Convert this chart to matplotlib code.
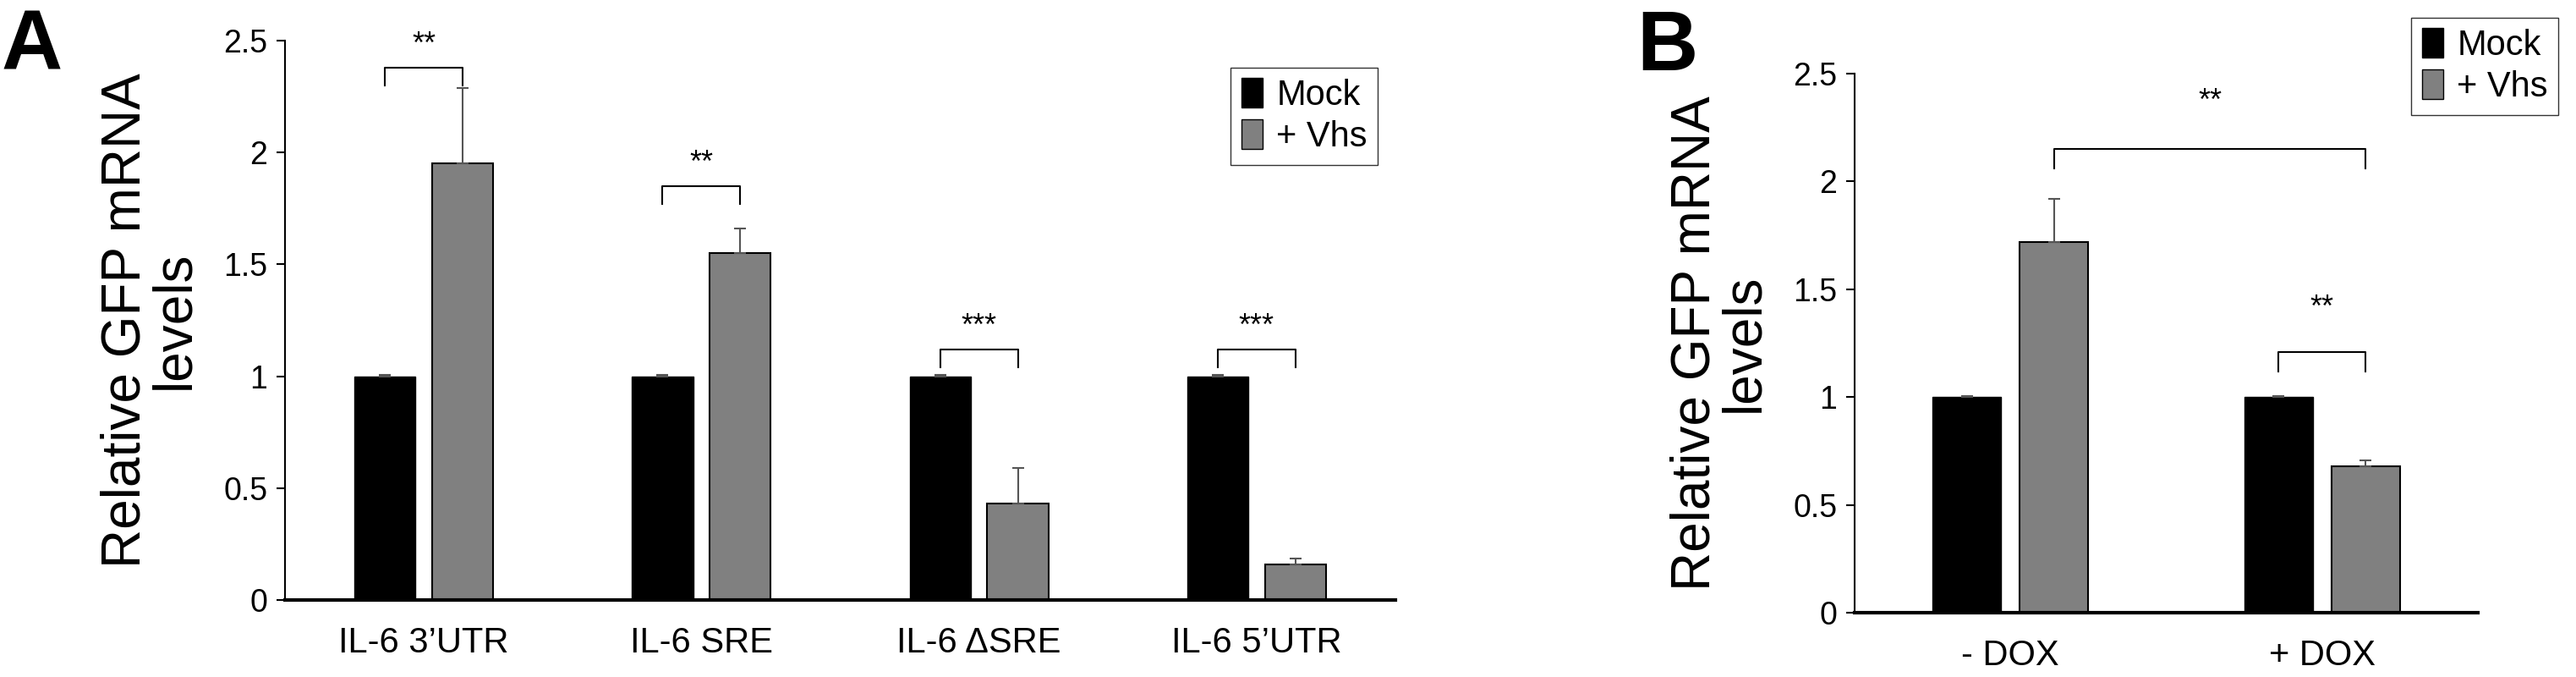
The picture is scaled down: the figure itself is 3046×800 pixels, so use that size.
import numpy as np
import matplotlib.pyplot as plt
from matplotlib import font_manager

names = {f.name for f in font_manager.fontManager.ttflist}
narrow = 'Liberation Sans Narrow' if 'Liberation Sans Narrow' in names else 'Liberation Sans'

cats_a = ['IL-6 3\u2019UTR', 'IL-6 SRE', 'IL-6 \u0394SRE', 'IL-6 5\u2019UTR']
mock_a = [1.0, 1.0, 1.0, 1.0]
mock_a_err = [0.005, 0.005, 0.005, 0.005]
vhs_a = [1.95, 1.55, 0.43, 0.16]
vhs_a_err = [0.34, 0.11, 0.16, 0.025]
stars_a = ['**', '**', '***', '***']
brack_a = [2.38, 1.85, 1.12, 1.12]

cats_b = ['- DOX', '+ DOX']
mock_b = [1.0, 1.0]
mock_b_err = [0.005, 0.005]
vhs_b = [1.72, 0.68]
vhs_b_err = [0.20, 0.025]

fig = plt.figure(figsize=(30.46, 8), dpi=100)
axA = fig.add_axes([337/3046, 1-709/800, (1650-337)/3046, (709-48)/800])
axB = fig.add_axes([2193/3046, 1-724/800, (2930-2193)/3046, (724-87)/800])

w, off = 0.22, 0.14


def style(ax, cats, n):
    ax.set_ylim(0, 2.5)
    ax.set_xlim(-0.5, n - 0.5)
    ax.set_yticks([0, 0.5, 1, 1.5, 2, 2.5])
    ax.set_yticklabels(['0', '0.5', '1', '1.5', '2', '2.5'], fontfamily=narrow, fontsize=27)
    ax.set_xticks(range(n))
    ax.set_xticklabels(cats, fontfamily=narrow, fontsize=30)
    ax.tick_params(axis='x', length=0, pad=22)
    ax.tick_params(axis='y', direction='out', length=7, width=1.5, pad=8)
    for s in ['top', 'right']:
        ax.spines[s].set_visible(False)
    ax.spines['left'].set_linewidth(1.5)
    ax.spines['bottom'].set_linewidth(3)
    ax.set_ylabel('Relative GFP mRNA\nlevels', fontfamily='Liberation Sans', fontsize=46,
                  linespacing=0.95, labelpad=20)
    ax.legend(handles=[plt.Rectangle((0, 0), 1, 1, fc='black', ec='black'),
                       plt.Rectangle((0, 0), 1, 1, fc='#808080', ec='black')],
              labels=['Mock', '+ Vhs'], prop={'family': narrow, 'size': 30},
              frameon=True, fancybox=False, edgecolor='black', handlelength=0.6,
              handleheight=0.9, handletextpad=0.4, borderpad=0.3, labelspacing=0.2)


def bars(ax, mock, mock_err, vhs, vhs_err):
    x = np.arange(len(mock))
    ek = dict(ecolor='#555555', elinewidth=1.5, capsize=5, capthick=1.5)
    ax.bar(x - off, mock, w, color='black', edgecolor='black',
           yerr=[np.zeros(len(x)), mock_err], error_kw=ek)
    ax.bar(x + off, vhs, w, color='#808080', edgecolor='black', linewidth=1.5,
           yerr=[np.zeros(len(x)), vhs_err], error_kw=ek)


def bracket(ax, x1, x2, y, txt, h=0.08, ty=0.1):
    ax.plot([x1, x1, x2, x2], [y - h, y, y, y - h], color='black', lw=1.5)
    ax.text((x1 + x2) / 2, y + ty, txt, ha='center', va='center',
            fontfamily=narrow, fontsize=26)


bars(axA, mock_a, mock_a_err, vhs_a, vhs_a_err)
style(axA, cats_a, len(cats_a))
axA.legend_.set_bbox_to_anchor((1650/3046, 1-59/800), transform=fig.transFigure)
axA.legend_._loc = 1
for i in range(len(cats_a)):
    bracket(axA, i - off, i + off, brack_a[i], stars_a[i])

bars(axB, mock_b, mock_b_err, vhs_b, vhs_b_err)
style(axB, cats_b, len(cats_b))
axB.legend_.set_bbox_to_anchor((3046/3046, 1.0), transform=fig.transFigure)
axB.legend_._loc = 1
bracket(axB, off, 1 + off, 2.15, '**', h=0.09, ty=0.22)
bracket(axB, 1 - off, 1 + off, 1.21, '**', h=0.09, ty=0.2)

fig.text(2/3046, 1-10/800, 'A', fontsize=72, fontweight='bold', va='top', fontfamily='Liberation Sans')
fig.text(1935/3046, 1-10/800, 'B', fontsize=72, fontweight='bold', va='top', fontfamily='Liberation Sans')

fig.savefig('out.png', dpi=100)
